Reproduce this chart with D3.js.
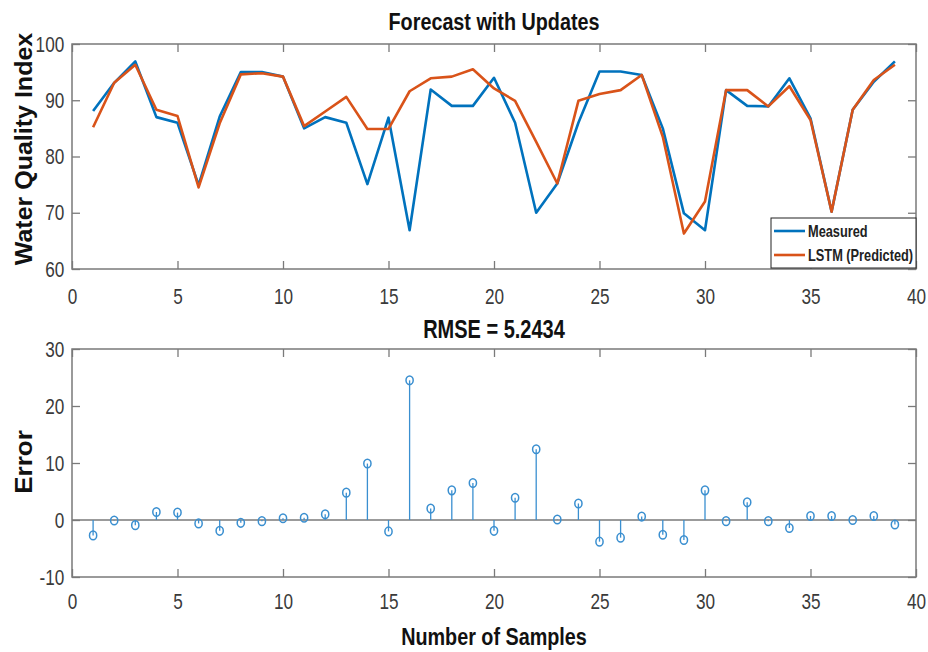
<!DOCTYPE html>
<html>
<head>
<meta charset="utf-8">
<script src="https://cdn.jsdelivr.net/npm/d3@7"></script>
<style>
  html, body { margin: 0; padding: 0; background: #fff; }
  svg { display: block; }
  text { font-family: "Liberation Sans", Arial, Helvetica, sans-serif; }
</style>
</head>
<body>
<svg id="chart" width="928" height="652"></svg>
<script>
// ---- data ----
const samples = d3.range(1, 40);
const measured = [88.1, 93.1, 96.9, 87.0, 86.0, 74.9, 87.1, 95.0, 95.0, 94.2,
                  85.0, 87.0, 86.0, 75.1, 86.9, 66.9, 91.9, 89.0, 89.0, 94.0,
                  86.0, 70.0, 75.2, 86.0, 95.1, 95.1, 94.5, 85.0, 69.9, 66.9,
                  91.8, 89.0, 88.9, 93.9, 86.8, 70.2, 88.3, 93.3, 96.9];
const predicted = [85.2, 93.1, 96.3, 88.3, 87.2, 74.5, 85.9, 94.6, 94.8, 94.2,
                   85.4, 88.0, 90.6, 84.9, 84.9, 91.6, 93.9, 94.2, 95.5, 92.1,
                   89.9, 82.6, 75.2, 89.9, 91.1, 91.8, 94.5, 83.5, 66.3, 72.0,
                   91.8, 91.8, 88.9, 92.5, 86.5, 70.2, 88.3, 93.6, 96.3];
const errors = [-2.7, -0.1, -0.9, 1.4, 1.3, -0.6, -1.9, -0.5, -0.2, 0.3,
                0.4, 1.0, 4.8, 9.9, -2.0, 24.5, 2.0, 5.2, 6.5, -1.9,
                3.9, 12.4, 0.1, 2.9, -3.8, -3.1, 0.6, -2.6, -3.5, 5.2,
                -0.2, 3.1, -0.2, -1.4, 0.7, 0.7, 0.0, 0.7, -0.8];
const xTicks = [0, 5, 10, 15, 20, 25, 30, 35, 40];
const topYTicks = [60, 70, 80, 90, 100];
const botYTicks = [-10, 0, 10, 20, 30];
const seriesNames = ["Measured", "LSTM (Predicted)"];
const titles = ["Forecast with Updates", "RMSE = 5.2434"];

// ---- styles ----
const BLUE = "#0072BD", ORANGE = "#D95319", AXIS = "#7a7a7a", TICKTXT = "#3a3a3a";
const STEM = "#3a8fd0";
const svg = d3.select("#chart");

const L = 72, R = 916;
const x = d3.scaleLinear().domain([0, 40]).range([L, R]);
const yTop = d3.scaleLinear().domain([60, 100]).range([269, 44]);
const yBot = d3.scaleLinear().domain([-10, 30]).range([577, 349]);
const fmt = d => String(d);

function frame(y, yTicks, labelPad) {
  const [y0, y1] = y.range();
  const g = svg.append("g");
  const ax = g.append("g").attr("transform", `translate(0,${y0})`)
    .call(d3.axisBottom(x).tickValues(xTicks).tickFormat(fmt).tickSizeInner(-8).tickSizeOuter(0).tickPadding(labelPad));
  const at = g.append("g").attr("transform", `translate(0,${y1})`)
    .call(d3.axisTop(x).tickValues(xTicks).tickSizeInner(-8).tickSizeOuter(0).tickFormat(""));
  const al = g.append("g").attr("transform", `translate(${L},0)`)
    .call(d3.axisLeft(y).tickValues(yTicks).tickFormat(fmt).tickSizeInner(-8).tickSizeOuter(0).tickPadding(10));
  const ar = g.append("g").attr("transform", `translate(${R},0)`)
    .call(d3.axisRight(y).tickValues(yTicks).tickSizeInner(-8).tickSizeOuter(0).tickFormat(""));
  [ax, at, al, ar].forEach(a => {
    a.select(".domain").remove();
    a.selectAll(".tick line").attr("stroke", AXIS).attr("stroke-width", 1.3);
    a.selectAll(".tick text").attr("fill", TICKTXT).style("font-size", "22px")
      .attr("transform", "scale(0.78,1)");
  });
  g.append("rect").attr("x", L).attr("y", y1).attr("width", R - L).attr("height", y0 - y1)
    .attr("fill", "none").attr("stroke", AXIS).attr("stroke-width", 1.5);
  return g;
}

function label(px, py, str, size, sx, anchor, rotate) {
  const tr = rotate ? `translate(${px},${py}) rotate(-90) scale(1,${sx})`
                    : `translate(${px},${py}) scale(${sx},1)`;
  return svg.append("text").attr("transform", tr).attr("text-anchor", anchor || "middle")
    .text(str).attr("fill", "#111").style("font-size", size + "px").style("font-weight", "bold");
}

// ---- top chart ----
frame(yTop, topYTicks, 19);
const line = d3.line().x((d, i) => x(samples[i])).y(d => yTop(d));
svg.append("path").datum(measured).attr("d", line)
  .attr("fill", "none").attr("stroke", BLUE).attr("stroke-width", 2.6).attr("stroke-linejoin", "round");
svg.append("path").datum(predicted).attr("d", line)
  .attr("fill", "none").attr("stroke", ORANGE).attr("stroke-width", 2.6).attr("stroke-linejoin", "round");

// legend
const lg = svg.append("g");
lg.append("rect").attr("x", 771).attr("y", 218).attr("width", 145).attr("height", 50)
  .attr("fill", "#fff").attr("stroke", "#222").attr("stroke-width", 1);
[BLUE, ORANGE].forEach((c, i) => {
  const yy = 231 + i * 24;
  lg.append("line").attr("x1", 774).attr("x2", 805).attr("y1", yy).attr("y2", yy)
    .attr("stroke", c).attr("stroke-width", 2.6);
  label(808, yy + 6, seriesNames[i], 16, 0.8, "start").attr("fill", "#222");
});

label(494, 30, titles[0], 23, 0.86);
label(32, 149, "Water Quality Index", 25, 0.92, "middle", true);

// ---- bottom chart ----
frame(yBot, botYTicks, 16);
svg.append("line").attr("x1", L).attr("x2", R).attr("y1", yBot(0)).attr("y2", yBot(0))
  .attr("stroke", AXIS).attr("stroke-width", 1.5);
const stems = svg.append("g");
stems.selectAll("line.stem").data(errors).join("line").attr("class", "stem")
  .attr("x1", (d, i) => x(samples[i])).attr("x2", (d, i) => x(samples[i]))
  .attr("y1", yBot(0)).attr("y2", d => yBot(d))
  .attr("stroke", STEM).attr("stroke-width", 1.3);
stems.selectAll("ellipse").data(errors).join("ellipse")
  .attr("cx", (d, i) => x(samples[i])).attr("cy", d => yBot(d))
  .attr("rx", 3.6).attr("ry", 4.3)
  .attr("fill", "none").attr("stroke", STEM).attr("stroke-width", 1.5);

label(494, 338, titles[1], 25, 0.8);
label(32, 462, "Error", 26, 0.92, "middle", true);
label(494, 645, "Number of Samples", 23, 0.86);
</script>
</body>
</html>
